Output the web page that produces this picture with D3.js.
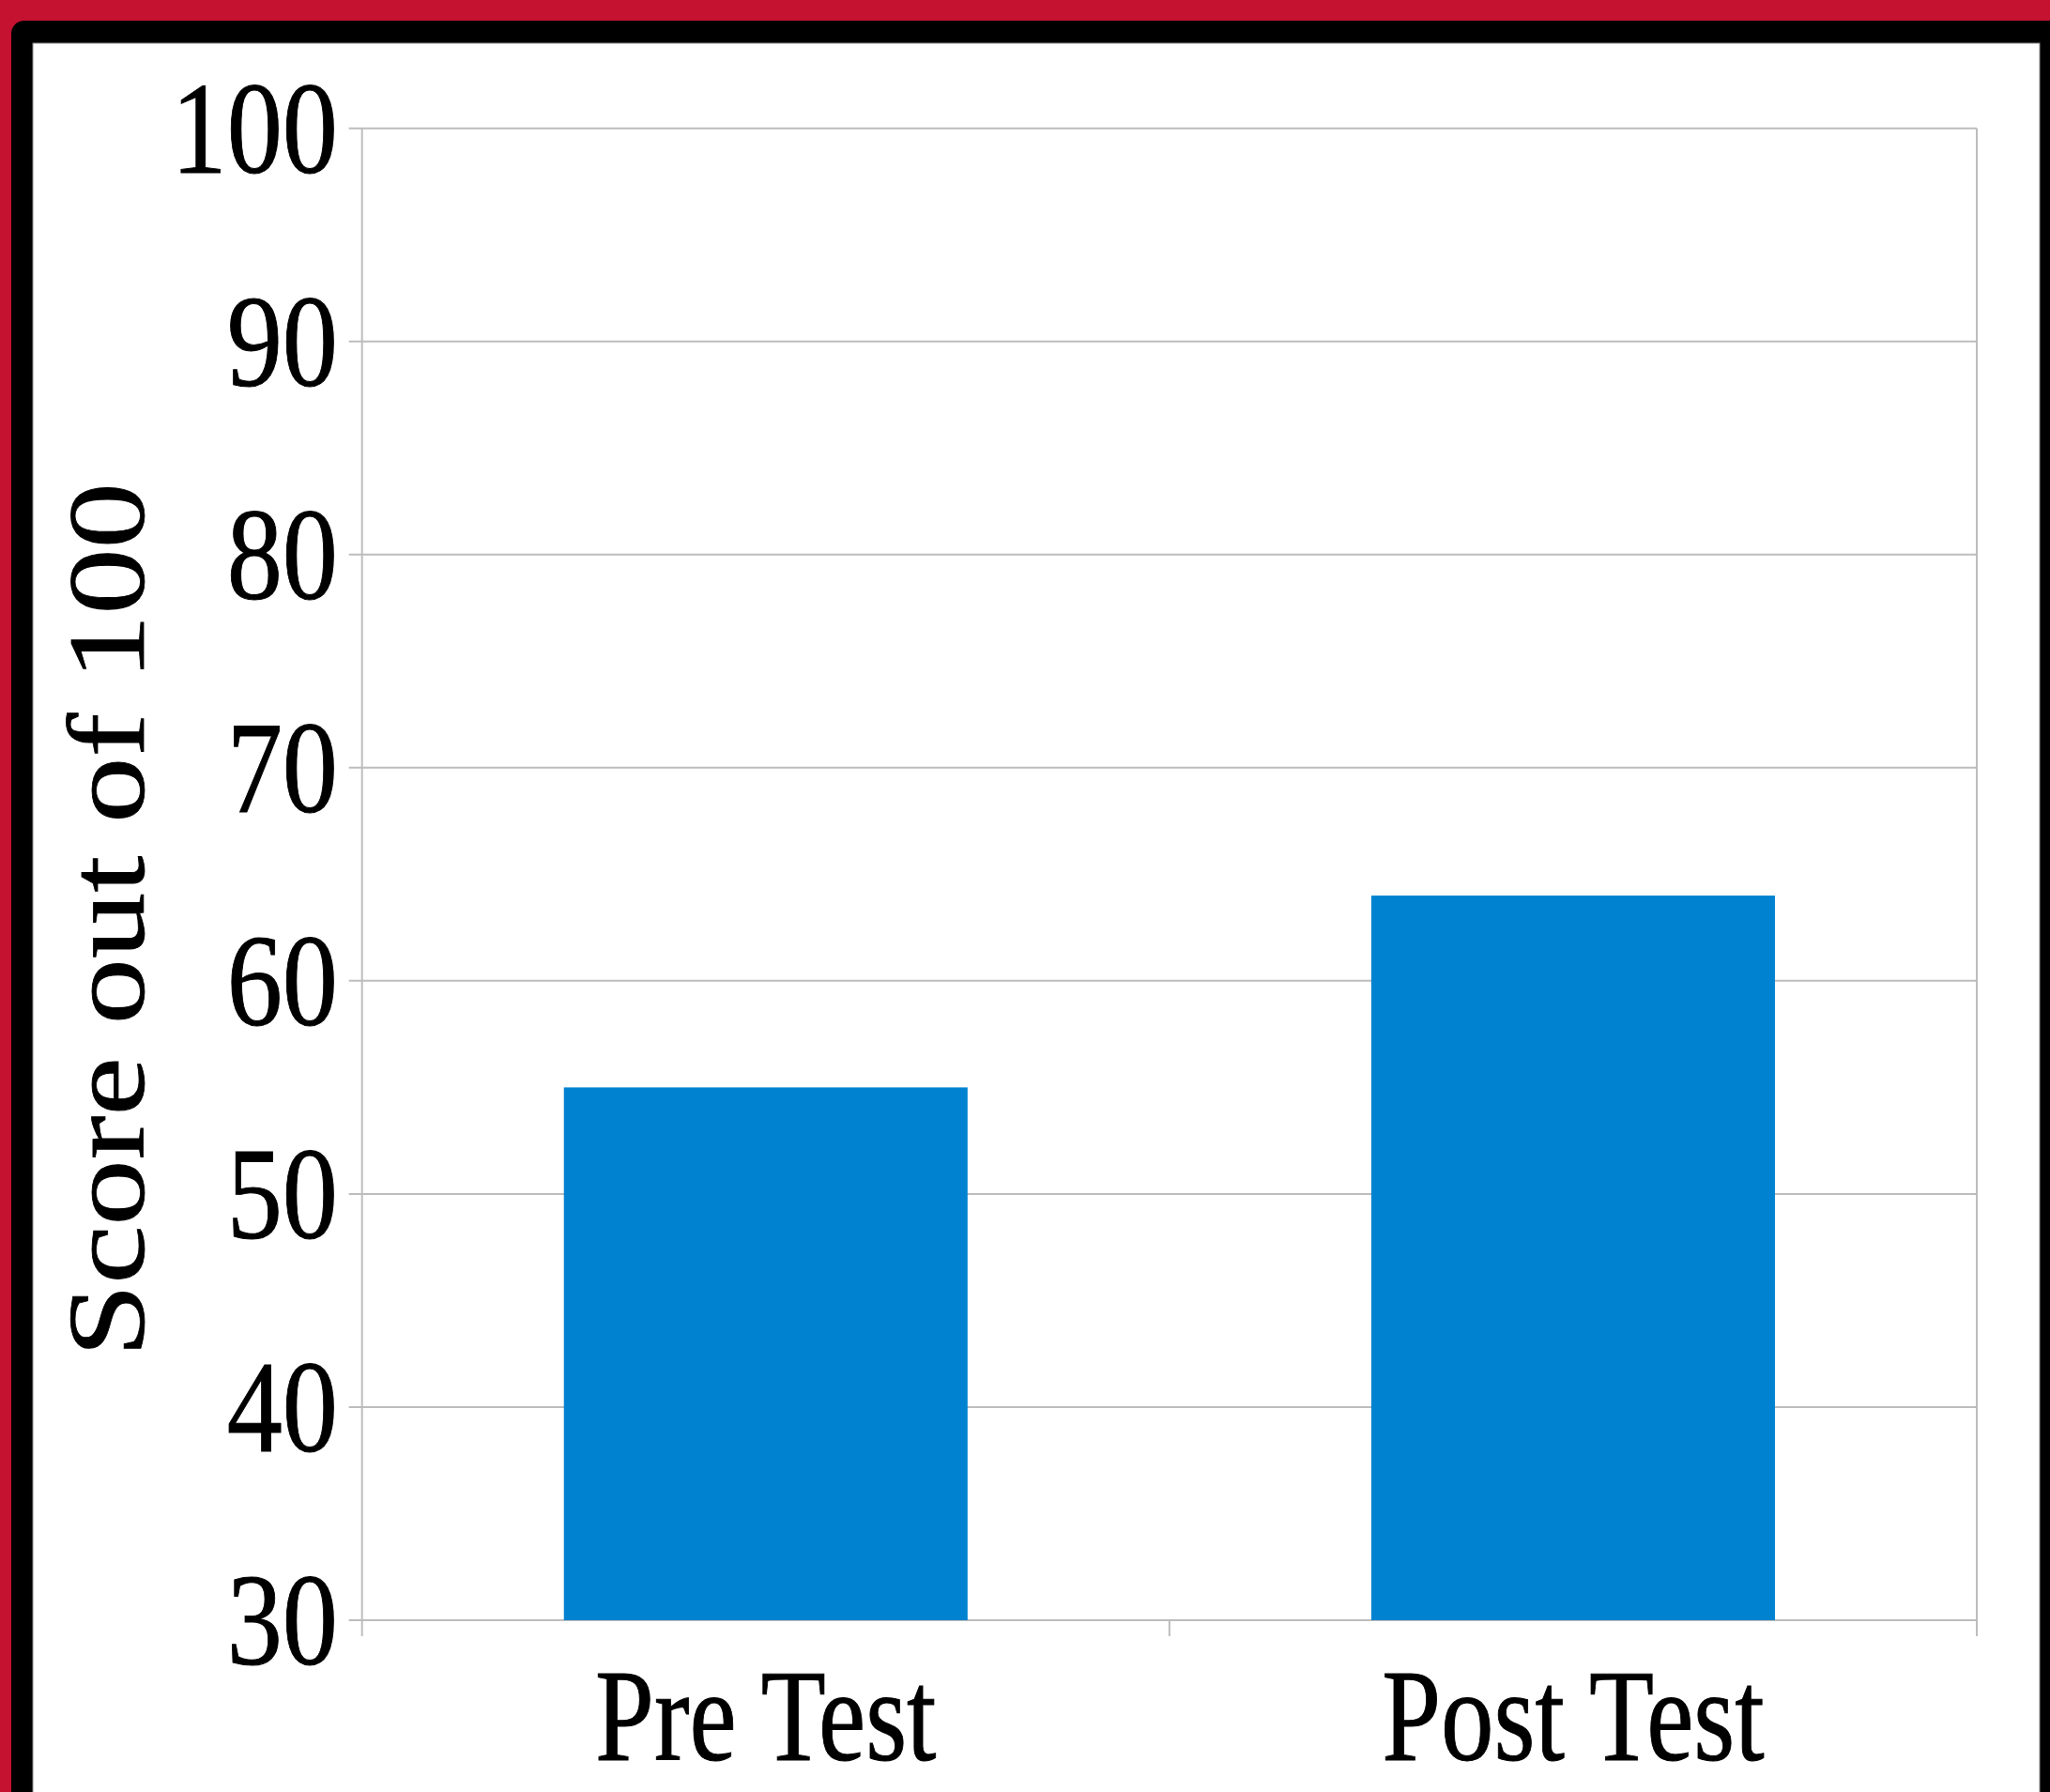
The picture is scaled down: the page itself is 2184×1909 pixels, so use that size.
<!DOCTYPE html>
<html>
<head>
<meta charset="utf-8">
<script src="https://cdn.jsdelivr.net/npm/d3@7"></script>
<style>
  html, body { margin: 0; padding: 0; background: #c41230; }
  svg { display: block; }
  text { font-family: "Liberation Serif", "DejaVu Serif", serif; fill: #000; stroke: #000; stroke-width: 0.8px; }
</style>
</head>
<body>
<svg id="chart" width="2184" height="1909"></svg>
<script>
// Data
const categories = ["Pre Test", "Post Test"];
const scores = [55, 64];
const yTicks = [30, 40, 50, 60, 70, 80, 90, 100];
const yTitle = "Score out of 100";

const W = 2184, H = 1909;
const svg = d3.select("#chart");

// Frame: red background, black card, white panel
svg.append("rect").attr("x", 0).attr("y", 0).attr("width", W).attr("height", H).attr("fill", "#c41230");
svg.append("rect").attr("x", 12).attr("y", 22).attr("width", W + 40).attr("height", H + 40)
  .attr("rx", 14).attr("fill", "#000");
svg.append("rect").attr("x", 35).attr("y", 46).attr("width", 2138).attr("height", H)
  .attr("fill", "#fff").attr("stroke", "#888").attr("stroke-width", 1);

const plot = { left: 385.7, right: 2106, top: 136.7, bottom: 1726 };

const y = d3.scaleLinear().domain([30, 100]).range([plot.bottom, plot.top]);
const x = d3.scaleBand().domain(categories).range([plot.left, plot.right])
  .paddingInner(0.5).paddingOuter(0.25);

const gridColor = "#bdbdbd";
const g = svg.append("g");

// Horizontal gridlines (extend left as ticks)
g.selectAll("line.grid").data(yTicks).join("line")
  .attr("class", "grid")
  .attr("x1", plot.left - 14).attr("x2", plot.right)
  .attr("y1", d => y(d)).attr("y2", d => y(d))
  .attr("stroke", gridColor).attr("stroke-width", 2);

// Left and right frame lines
g.append("line").attr("x1", plot.left).attr("x2", plot.left)
  .attr("y1", plot.top).attr("y2", plot.bottom + 17)
  .attr("stroke", gridColor).attr("stroke-width", 2);
g.append("line").attr("x1", plot.right).attr("x2", plot.right)
  .attr("y1", plot.top).attr("y2", plot.bottom + 17)
  .attr("stroke", gridColor).attr("stroke-width", 2);

// Category boundary ticks
const step = x.step();
const boundaries = categories.slice(1).map(c => x(c) - step * x.paddingInner() / 2);
g.selectAll("line.xt").data(boundaries).join("line")
  .attr("class", "xt")
  .attr("x1", d => d).attr("x2", d => d)
  .attr("y1", plot.bottom).attr("y2", plot.bottom + 17)
  .attr("stroke", gridColor).attr("stroke-width", 2);

// Bars
g.selectAll("rect.bar").data(categories).join("rect")
  .attr("class", "bar")
  .attr("x", d => x(d))
  .attr("width", x.bandwidth())
  .attr("y", (d, i) => y(scores[i]))
  .attr("height", (d, i) => y(30) - y(scores[i]))
  .attr("fill", "#0082d0");

// Y tick labels
const tickFont = 116, stretch = 1.2;
g.selectAll("text.yl").data(yTicks).join("text")
  .attr("class", "yl")
  .attr("transform", d => `translate(360,${y(d) + 0.338 * tickFont * stretch}) scale(1.02,${stretch})`)
  .attr("text-anchor", "end")
  .attr("font-size", tickFont)
  .text(d => d);

// X category labels
g.selectAll("text.xl").data(categories).join("text")
  .attr("class", "xl")
  .attr("transform", d => `translate(${x(d) + x.bandwidth() / 2},1875) scale(1,1.24)`)
  .attr("text-anchor", "middle")
  .attr("font-size", 113)
  .text(d => d);

// Y axis title
g.append("text")
  .attr("transform", "translate(153,980) rotate(-90) scale(1.21,1)")
  .attr("text-anchor", "middle")
  .attr("font-size", 116)
  .text(yTitle);
</script>
</body>
</html>
